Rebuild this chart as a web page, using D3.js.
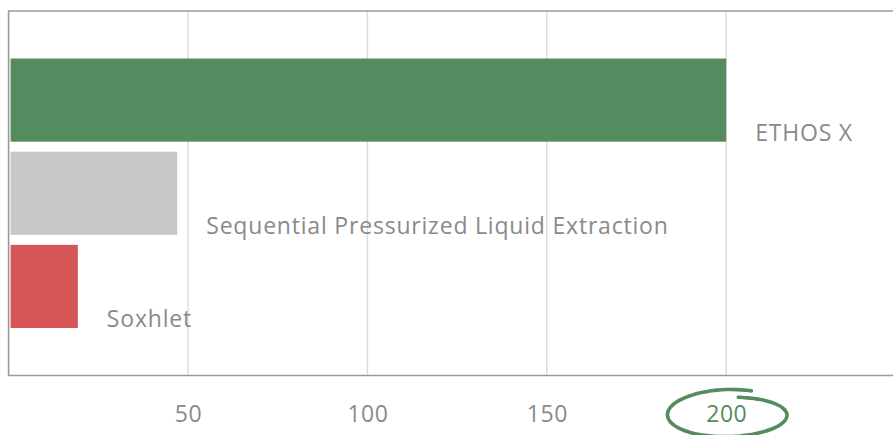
<!DOCTYPE html>
<html><head><meta charset="utf-8">
<script src="https://cdn.jsdelivr.net/npm/d3@7"></script>
<style>
html,body{margin:0;padding:0;background:#fff;overflow:hidden}
svg{display:block}
</style></head>
<body><svg id="c" width="893" height="435"></svg>
<script>
const categories = ["ETHOS X", "Sequential Pressurized Liquid Extraction", "Soxhlet"];
const values = [200, 47, 19.3];
const colors = ["#548c5f", "#c8c8c8", "#d65556"];
const tickValues = [50, 100, 150, 200];
const highlightTick = 200;

(function () {
const W = 893, H = 435;
const mLeft = 8.6, mTop = 11, mBottom = 375.5;
const svg = d3.select("#c");
const x = d3.scaleLinear().domain([0, 250]).range([mLeft, mLeft + 250 * 3.588]);
const y = d3.scaleBand().domain(categories).range([mTop, mBottom]).paddingInner(0.1075).paddingOuter(0.51);

const font = "'Open Sans', Lato, sans-serif";
// grid
svg.append("g").selectAll("line").data(tickValues).join("line")
  .attr("x1", d => x(d)).attr("x2", d => x(d))
  .attr("y1", mTop).attr("y2", mBottom)
  .attr("stroke", "#dcdcdc").attr("stroke-width", 1.5);

// bars
svg.append("g").selectAll("rect").data(values).join("rect")
  .attr("x", x(0) + 2)
  .attr("y", (d, i) => y(categories[i]))
  .attr("width", d => x(d) - x(0) - 2)
  .attr("height", y.bandwidth())
  .attr("fill", (d, i) => colors[i]);

// labels
svg.append("g").selectAll("text").data(values).join("text")
  .attr("x", d => x(d) + 29)
  .attr("y", (d, i) => y(categories[i]) + y.bandwidth() - 1)
  .attr("fill", "#8a8a8a")
  .attr("font-family", font).attr("font-size", 23)
  .attr("letter-spacing", "0.8px")
  .text((d, i) => categories[i]);

// frame
svg.append("path")
  .attr("d", `M${W + 5},${mTop} H${mLeft} V${mBottom} H${W + 5}`)
  .attr("fill", "none").attr("stroke", "#9a9a9a").attr("stroke-width", 1.6);

// axis
const axis = d3.axisBottom(x).tickValues(tickValues).tickSize(0).tickPadding(30);
const ag = svg.append("g").attr("transform", `translate(0,${mBottom})`).call(axis);
ag.select(".domain").remove();
ag.selectAll("text")
  .attr("font-family", font).attr("font-size", 23)
  .attr("letter-spacing", "0.5px")
  .attr("fill", d => d === highlightTick ? "#548c5f" : "#8a8a8a");

// hand-drawn ellipse around highlighted tick
const cx = x(highlightTick) + 2, cy = 415;
const pts = [];
const a0 = -80 * Math.PI / 180, a1 = 292 * Math.PI / 180;
const n = 80;
for (let i = 0; i <= n; i++) {
  const t = i / n;
  const a = a0 + (a1 - a0) * t;
  const rx = 58 + 4 * t, ry = 18 + 8 * t;
  pts.push([cx + rx * Math.cos(a), cy + ry * Math.sin(a)]);
}
svg.append("path")
  .attr("d", d3.line().curve(d3.curveBasis)(pts))
  .attr("fill", "none").attr("stroke", "#548c5f").attr("stroke-width", 3.6)
  .attr("stroke-linecap", "round");
})();
</script></body></html>
